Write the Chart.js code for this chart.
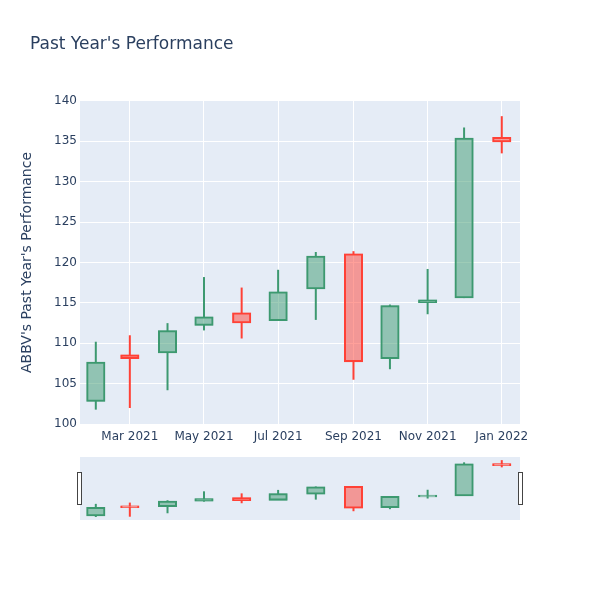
<!DOCTYPE html>
<html><head><meta charset="utf-8">
<script src="https://cdn.jsdelivr.net/npm/chart.js@4.4.0/dist/chart.umd.min.js"></script>
<style>
html,body{margin:0;padding:0;background:#fff;}
#wrap{position:relative;width:600px;height:600px;overflow:hidden;}
#main{position:absolute;left:0;top:0;}
#slider{position:absolute;left:0;top:440px;}
</style></head><body>
<div id="wrap">
<canvas id="main" width="600" height="450"></canvas>
<canvas id="slider" width="600" height="90"></canvas>
</div>
<script>
const chartTitle = "Past Year's Performance";
const yAxisTitle = "ABBV's Past Year's Performance";
const dates = ['2021-02-01','2021-03-01','2021-04-01','2021-05-01','2021-06-01','2021-07-01',
               '2021-08-01','2021-09-01','2021-10-01','2021-11-01','2021-12-01','2022-01-01'];
const openVals  = [102.9, 108.5, 108.9, 112.3, 113.7, 112.9, 116.8, 121.0, 108.2, 115.1, 115.7, 135.4];
const highVals  = [110.2, 111.0, 112.5, 118.2, 116.9, 119.1, 121.3, 121.4, 114.8, 119.2, 136.7, 138.1];
const lowVals   = [101.8, 102.0, 104.2, 111.6, 110.6, 112.9, 112.9, 105.5, 106.8, 113.6, 115.6, 133.5];
const closeVals = [107.6, 108.2, 111.5, 113.2, 112.6, 116.3, 120.7, 107.8, 114.6, 115.3, 135.3, 135.0];
const xTickDates  = ['2021-03-01','2021-05-01','2021-07-01','2021-09-01','2021-11-01','2022-01-01'];
const xTickLabels = ['Mar 2021','May 2021','Jul 2021','Sep 2021','Nov 2021','Jan 2022'];
const yTicks = [100,105,110,115,120,125,130,135,140];
const xRange = ['2021-01-19','2022-01-16'];
const yRange = [99.9, 140.1];

const INC = '#3D9970', DEC = '#FF4136';
const INC_FILL = 'rgba(61,153,112,0.5)', DEC_FILL = 'rgba(255,65,54,0.5)';
const TEXT = '#2a3f5f', PLOT_BG = '#E5ECF6';
const FONT = '"DejaVu Sans", Verdana, sans-serif';
Chart.defaults.font.family = FONT;
Chart.defaults.color = TEXT;

function day(s){ const p = s.split('-').map(Number); return Date.UTC(p[0], p[1]-1, p[2]) / 86400000; }
const isUp = dates.map((d,i)=> closeVals[i] >= openVals[i]);
const lineCol = isUp.map(u => u ? INC : DEC);
const fillCol = isUp.map(u => u ? INC_FILL : DEC_FILL);

function makeDatasets(){
  return [
    { data: dates.map((d,i)=>({x: day(d), y: [lowVals[i], Math.min(openVals[i], closeVals[i])]})),
      backgroundColor: lineCol, borderWidth: 0, barThickness: 2, grouped: false, inflateAmount: 0 },
    { data: dates.map((d,i)=>({x: day(d), y: [Math.max(openVals[i], closeVals[i]), highVals[i]]})),
      backgroundColor: lineCol, borderWidth: 0, barThickness: 2, grouped: false, inflateAmount: 0 },
    { data: dates.map((d,i)=>({x: day(d), y: [openVals[i], closeVals[i]]})),
      backgroundColor: fillCol, borderColor: lineCol, borderWidth: 0.01, borderSkipped: false,
      inflateAmount: 1, barThickness: 17, grouped: false }
  ];
}

const bgPlugin = { id: 'bg', beforeDraw(c){ const a = c.chartArea, ctx = c.ctx;
  ctx.save(); ctx.fillStyle = PLOT_BG; ctx.fillRect(a.left, a.top, a.right-a.left, a.bottom-a.top); ctx.restore(); } };

const titlePlugin = { id: 'ttl', afterDraw(c){ const ctx = c.ctx; ctx.save();
  ctx.font = '17px ' + FONT; ctx.fillStyle = TEXT; ctx.textBaseline = 'middle'; ctx.textAlign = 'left';
  ctx.fillText(chartTitle, 30, 45); ctx.restore(); } };

new Chart(document.getElementById('main'), {
  type: 'bar',
  data: { datasets: makeDatasets() },
  plugins: [bgPlugin, titlePlugin],
  options: {
    responsive: false, animation: false,
    layout: { padding: { top: 100, right: 80, left: 0, bottom: 0 } },
    plugins: { legend: { display: false }, tooltip: { enabled: false } },
    scales: {
      x: { type: 'linear', min: day(xRange[0]), max: day(xRange[1]), offset: false,
        grid: { color: '#ffffff', lineWidth: 1, drawTicks: false, offset: false },
        border: { display: false },
        afterBuildTicks(s){ s.ticks = xTickDates.map(d => ({ value: day(d) })); },
        afterFit(s){ s.height = 25; },
        ticks: { autoSkip: false, maxRotation: 0, padding: 5, font: { size: 12 },
          callback: (v, i) => xTickLabels[i] } },
      y: { min: yRange[0], max: yRange[1],
        grid: { color: '#ffffff', lineWidth: 1, drawTicks: false },
        border: { display: false },
        afterBuildTicks(s){ s.ticks = yTicks.map(v => ({ value: v })); },
        afterFit(s){ s.width = 80; },
        title: { display: true, text: yAxisTitle, font: { size: 14 }, color: TEXT, padding: { top: 19, bottom: 4 } },
        ticks: { padding: 3, font: { size: 12 }, callback: v => String(v) } }
    }
  }
});

const handlePlugin = { id: 'handles', afterDraw(c){ const a = c.chartArea, ctx = c.ctx;
  const mid = (a.top + a.bottom) / 2; ctx.save(); ctx.fillStyle = '#ffffff'; ctx.strokeStyle = '#444444'; ctx.lineWidth = 1;
  [a.left - 2.5, a.right - 1.5].forEach(x => { ctx.fillRect(x, mid - 16, 4, 32); ctx.strokeRect(x, mid - 16, 4, 32); });
  ctx.restore(); } };

new Chart(document.getElementById('slider'), {
  type: 'bar',
  data: { datasets: makeDatasets() },
  plugins: [bgPlugin, handlePlugin],
  options: {
    responsive: false, animation: false,
    layout: { padding: { top: 17, right: 80, left: 80, bottom: 10 } },
    plugins: { legend: { display: false }, tooltip: { enabled: false } },
    scales: {
      x: { type: 'linear', display: false, min: day(xRange[0]), max: day(xRange[1]), offset: false },
      y: { display: false, min: yRange[0], max: yRange[1] }
    }
  }
});
</script>
</body></html>
